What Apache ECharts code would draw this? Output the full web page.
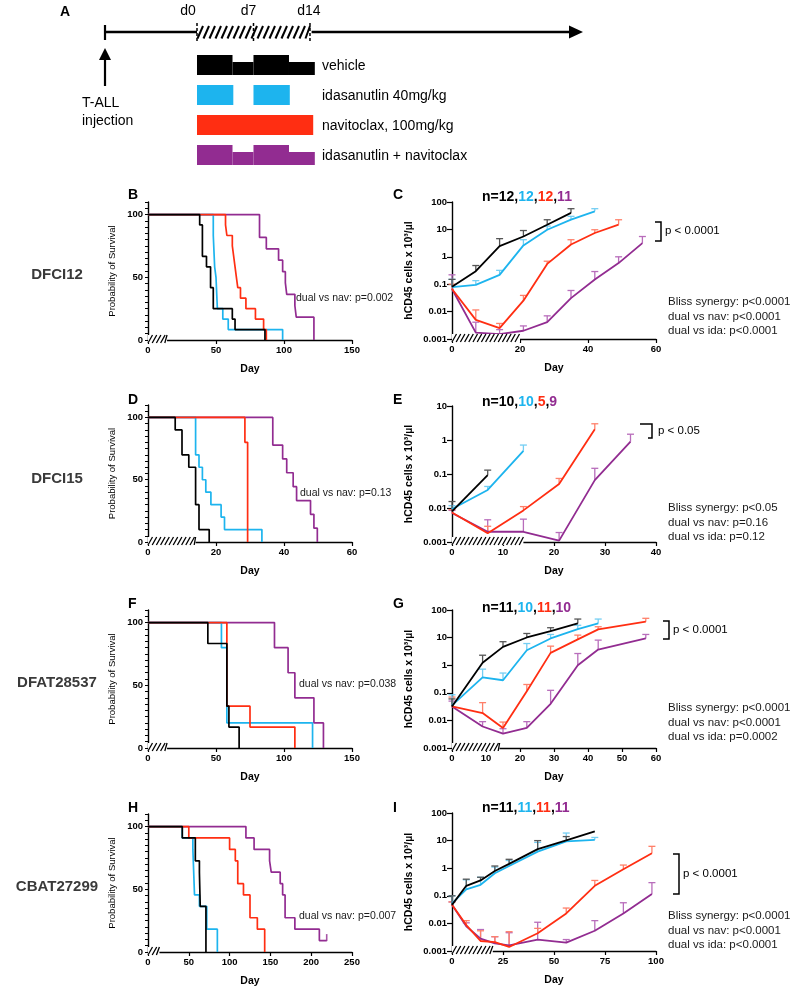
<!DOCTYPE html>
<html><head><meta charset="utf-8">
<script src="https://cdn.jsdelivr.net/npm/echarts@6/dist/echarts.min.js"></script>
<style>html,body{margin:0;padding:0;background:#fff}#c{width:793px;height:999px}</style>
</head><body><div id="c"></div>
<script>
// ---------------- Panel A schedule ----------------
const scheduleRows = ['vehicle', 'idasanutlin 40mg/kg', 'navitoclax, 100mg/kg', 'idasanutlin + navitoclax'];
const scheduleDayLabels = ['d0', 'd7', 'd14'];
const scheduleDayValues = [0, 7, 14];
// [startDay, endDay, fullHeight(1)/reduced(0)]
const blocksVehicle = [[0, 4.4, 1], [4.4, 7, 0], [7, 11.4, 1], [11.4, 14.6, 0]];
const blocksIda = [[0, 4.5, 1], [7, 11.5, 1]];
const blocksNav = [[0, 14.4, 1]];
const blocksDual = [[0, 4.4, 1], [4.4, 7, 0], [7, 11.4, 1], [11.4, 14.6, 0]];

// ---------------- Survival (Kaplan-Meier) ----------------
const survB_veh = [[0,100],[38,91.7],[40,66.7],[43,58.3],[46,41.7],[48,25],[62,16.7],[64,8.3],[86,0]];
const survB_ida = [[0,100],[48,83.3],[49,58.3],[50,50],[51,25],[55,16.7],[59,8.3],[99,0]];
const survB_nav = [[0,100],[57,91.7],[58,83.3],[62,75],[63,66.7],[64,58.3],[65,50],[66,41.7],[68,33.3],[72,25],[79,16.7],[85,8.3],[87,0]];
const survB_dual = [[0,100],[82,81.8],[87,72.7],[96,63.6],[99,54.5],[101,45.5],[102,36.4],[108,27.3],[109,18.2],[122,0]];

const survD_veh = [[0,100],[8,90],[10,70],[12,60],[14,30],[15,10],[18,0]];
const survD_ida = [[0,100],[14,70],[15,60],[16,50],[17,40],[18.5,30],[21.5,20],[22.5,10],[33.5,0]];
const survD_nav = [[0,100],[28.5,80],[29.3,0]];
const survD_dual = [[0,100],[36.7,77.8],[39.6,66.7],[40.8,55.6],[42.7,44.4],[43.7,33.3],[47.8,22.2],[48.8,11.1],[49.8,0]];

const survF_veh = [[0,100],[44,83.3],[58,33.3],[59.5,16.7],[67,0]];
const survF_ida = [[0,100],[54,80],[58,20],[121,0]];
const survF_nav = [[0,100],[58,33.3],[75,16.7],[108,0]];
const survF_dual = [[0,100],[93,80],[103,60],[108,40],[122,20],[129,0]];

const survH_veh = [[0,100],[42,90.9],[58,72.7],[63,63.6],[64,36.4],[71,0]];
const survH_ida = [[0,100],[42,90.9],[55,81.8],[57,45.5],[63,36.4],[72,18.2],[85,0]];
const survH_nav = [[0,100],[50,90.9],[100,81.8],[107,72.7],[110,54.5],[117,45.5],[125,27.3],[134,18.2],[143,0]];
const survH_dual = [[0,100],[120,90.9],[130,81.8],[149,72.7],[151,63.6],[162,54.5],[165,45.5],[168,27.3],[180,18.2],[210,9.1],[219,9.1]];
const censorH_dual = [[219, 9.1]];

// ---------------- Leukemia burden (hCD45 x10^3/ul) ----------------
const daysC = [0, 7, 14, 21, 28, 35, 42, 49, 56];
const C_veh = [0.08, 0.30, 2.45, 5.5, 14.8, 40];
const C_vehErr = [0.15, 0.48, 4.6, 9.1, 22.5, 57];
const C_ida = [0.078, 0.095, 0.22, 2.6, 9.7, 22.6, 45.5];
const C_idaErr = [0.15, 0.135, 0.32, 4.2, 13.2, 30, 57];
const C_nav = [0.067, 0.005, 0.0025, 0.025, 0.55, 2.8, 7.4, 15];
const C_navErr = [0.1, 0.0115, 0.0037, 0.039, 0.69, 4.2, 9.7, 22.5];
const C_dual = [0.067, 0.0017, 0.0015, 0.002, 0.0041, 0.031, 0.148, 0.59, 3.16];
const C_dualErr = [0.22, 0.0041, 0.0022, 0.003, 0.007, 0.059, 0.29, 1.0, 5.5];

const daysE = [0, 7, 14, 21, 28, 35];
const E_veh = [0.0079, 0.093];
const E_vehErr = [0.0155, 0.13];
const E_ida = [0.0093, 0.034, 0.48];
const E_idaErr = [0.0117, 0.043, 0.71];
const E_nav = [0.0074, 0.0018, 0.0085, 0.051, 2.08];
const E_navErr = [0.009, 0.0029, 0.011, 0.074, 3.0];
const E_dual = [0.0071, 0.002, 0.002, 0.0011, 0.066, 0.89];
const E_dualErr = [0.0085, 0.0045, 0.0047, 0.0019, 0.147, 1.48];

const daysG = [0, 9, 15, 22, 29, 37, 43, 57];
const G_veh = [0.032, 1.22, 4.6, 10.1, 17.2, 32.7];
const G_vehErr = [0.06, 2.3, 7.1, 14.1, 22.8, 47];
const G_ida = [0.035, 0.36, 0.285, 3.5, 9.3, 20.4, 32.7];
const G_idaErr = [0.085, 0.72, 0.52, 6.1, 13, 28, 47];
const G_nav = [0.032, 0.0185, 0.0053, 0.114, 2.8, 8.6, 19.8, 37.7];
const G_navErr = [0.07, 0.044, 0.0087, 0.2, 4.9, 12.3, 24.7, 50];
const G_dual = [0.032, 0.006, 0.0033, 0.0054, 0.04, 1.0, 3.7, 9.3];
const G_dualErr = [0.05, 0.009, 0.005, 0.009, 0.123, 2.65, 8.1, 13];

const daysI = [0, 7, 14, 21, 28, 42, 56, 70, 84, 98];
const I_veh = [0.047, 0.23, 0.36, 0.79, 1.44, 4.9, 10.1, 21.5];
const I_vehErr = [0.1, 0.4, 0.47, 1.2, 2.1, 10, 14, null];
const I_ida = [0.053, 0.17, 0.25, 0.66, 1.2, 4.0, 9.3, 10.7];
const I_idaErr = [0.1, 0.38, 0.47, 1.1, 1.9, 8.6, 18.8, 13];
const I_nav = [0.047, 0.0087, 0.0023, 0.0021, 0.0014, 0.0044, 0.023, 0.23, 0.91, 3.5];
const I_navErr = [0.06, 0.0126, 0.0054, 0.0033, 0.005, 0.0066, 0.036, 0.36, 1.3, 6.2];
const I_dual = [0.047, 0.0079, 0.0028, 0.0019, 0.0016, 0.0026, 0.002, 0.0054, 0.023, 0.117];
const I_dualErr = [0.06, 0.0105, 0.006, 0.0033, 0.0046, 0.011, 0.0026, 0.0126, 0.056, 0.3];

// treatment hatch (days)
const hatchB = [0, 14], hatchC = [0, 20], hatchD = [0, 14], hatchE = [0, 14];
const hatchF = [0, 14], hatchG = [0, 14], hatchH = [0, 14], hatchI = [0, 20];

// ---------------- styling ----------------
const FONT = "'Liberation Sans', Arial, Helvetica, sans-serif";
const COL = {veh: '#000000', ida: '#1DB4EE', nav: '#FF2E12', dual: '#922C91'};
const ECOL = {veh: '#555555', ida: '#74CEF3', nav: '#FF806A', dual: '#B86DBB'};

const grids = [], xAxes = [], yAxes = [], series = [];

function hatchSeries(idx, range, yBase) {
  return {
    type: 'custom', xAxisIndex: idx, yAxisIndex: idx, z: 5, silent: true, clip: false,
    encode: {x: [0, 1]},
    data: [range],
    renderItem: function (params, api) {
      const p0 = api.coord([api.value(0), yBase]);
      const p1 = api.coord([api.value(1), yBase]);
      const top = p0[1] - 5, bot = p0[1] + 3;
      const ch = [{type: 'rect', shape: {x: p0[0], y: top, width: p1[0] - p0[0], height: bot - top}, style: {fill: '#fff'}}];
      for (let x = p0[0]; x < p1[0] - 1; x += 4.2) {
        ch.push({type: 'line', shape: {x1: x, y1: bot, x2: Math.min(x + 4.5, p1[0]), y2: top}, style: {stroke: '#000', lineWidth: 1.3}});
      }
      return {type: 'group', children: ch};
    }
  };
}

function axisCommonX(idx, max, interval) {
  return {
    gridIndex: idx, type: 'value', min: 0, max: max, interval: interval,
    name: 'Day', nameLocation: 'middle', nameGap: 24,
    nameTextStyle: {fontWeight: 'bold', fontSize: 10.5, color: '#000', fontFamily: FONT},
    axisLine: {lineStyle: {color: '#000', width: 1.4}},
    axisTick: {length: 4, lineStyle: {color: '#000', width: 1.2}},
    axisLabel: {fontWeight: 'bold', fontSize: 9.5, color: '#000', fontFamily: FONT, margin: 5},
    splitLine: {show: false}
  };
}

function addKM(pos, xmax, xint, curves, hatch, censor) {
  const idx = grids.length;
  grids.push({left: pos[0], top: pos[1], width: 204, height: pos[2]});
  xAxes.push(axisCommonX(idx, xmax, xint));
  yAxes.push({
    gridIndex: idx, type: 'value', min: 0, max: 110, interval: 5,
    name: 'Probability of Survival', nameLocation: 'middle', nameGap: 31,
    nameTextStyle: {fontSize: 9.5, color: '#000', fontFamily: FONT},
    axisLine: {show: true, lineStyle: {color: '#000', width: 1.4}},
    axisTick: {show: true, length: 3, lineStyle: {color: '#000', width: 1}},
    axisLabel: {formatter: v => (v === 0 || v === 50 || v === 100) ? String(v) : '', fontWeight: 'bold', fontSize: 9.5, color: '#000', fontFamily: FONT, margin: 5},
    splitLine: {show: false}
  });
  curves.forEach(([data, key], k) => {
    series.push({type: 'line', xAxisIndex: idx, yAxisIndex: idx, data: data, step: 'end', symbol: 'none',
      lineStyle: {color: COL[key], width: 1.7}, itemStyle: {color: COL[key]}, z: 2 + k * 0.1, silent: true});
  });
  if (censor) {
    series.push({type: 'scatter', xAxisIndex: idx, yAxisIndex: idx, data: censor[0], symbol: 'rect', symbolSize: [1.6, 7], symbolOffset: [0, -3],
      itemStyle: {color: COL[censor[1]]}, z: 3, silent: true});
  }
  series.push(hatchSeries(idx, hatch, 0));
}

const logFmt = v => { const e = Math.round(Math.log10(v)); return e >= 0 ? String(Math.pow(10, e)) : '0.' + '0'.repeat(-e - 1) + '1'; };

function addTumor(pos, xmax, xint, ymax, sets, days, hatch) {
  const idx = grids.length;
  grids.push({left: pos[0], top: pos[1], width: 204, height: pos[2]});
  xAxes.push(axisCommonX(idx, xmax, xint));
  yAxes.push({
    gridIndex: idx, type: 'log', logBase: 10, min: 0.001, max: ymax,
    name: 'hCD45 cells x 10\u00B3/\u00B5l', nameLocation: 'middle', nameGap: 37,
    nameTextStyle: {fontWeight: 'bold', fontSize: 10.5, color: '#000', fontFamily: FONT},
    axisLine: {show: true, lineStyle: {color: '#000', width: 1.4}},
    axisTick: {show: true, length: 5, lineStyle: {color: '#000', width: 1.2}},
    minorTick: {show: false},
    axisLabel: {formatter: logFmt, fontWeight: 'bold', fontSize: 9.5, color: '#000', fontFamily: FONT, margin: 5},
    splitLine: {show: false}
  });
  // error bars
  sets.forEach(([mean, err, key]) => {
    const data = [];
    mean.forEach((m, i) => { if (err[i] != null) data.push([days[i], m, err[i]]); });
    series.push({
      type: 'custom', xAxisIndex: idx, yAxisIndex: idx, z: 2, silent: true, clip: false,
      encode: {x: 0, y: [1, 2]}, data: data,
      renderItem: function (params, api) {
        const a = api.coord([api.value(0), api.value(1)]);
        const b = api.coord([api.value(0), api.value(2)]);
        const st = {stroke: ECOL[key], lineWidth: 1.3};
        return {type: 'group', children: [
          {type: 'line', shape: {x1: a[0], y1: a[1], x2: b[0], y2: b[1]}, style: st},
          {type: 'line', shape: {x1: b[0] - 3.5, y1: b[1], x2: b[0] + 3.5, y2: b[1]}, style: st}
        ]};
      }
    });
  });
  sets.forEach(([mean, err, key], k) => {
    series.push({type: 'line', xAxisIndex: idx, yAxisIndex: idx, data: mean.map((m, i) => [days[i], m]), symbol: 'none',
      lineStyle: {color: COL[key], width: 1.8}, itemStyle: {color: COL[key]}, z: 3 + k * 0.1, silent: true});
  });
  series.push(hatchSeries(idx, hatch, 0.001));
}

// ---- panels ----
const L = 148, R = 452;
addKM([L, 202, 138], 150, 50, [[survB_dual, 'dual'], [survB_ida, 'ida'], [survB_nav, 'nav'], [survB_veh, 'veh']], hatchB);
addTumor([R, 202, 137], 60, 20, 100, [[C_dual, C_dualErr, 'dual'], [C_nav, C_navErr, 'nav'], [C_ida, C_idaErr, 'ida'], [C_veh, C_vehErr, 'veh']], daysC, hatchC);
addKM([L, 405, 137], 60, 20, [[survD_dual, 'dual'], [survD_ida, 'ida'], [survD_nav, 'nav'], [survD_veh, 'veh']], hatchD);
addTumor([R, 406, 136], 40, 10, 10, [[E_dual, E_dualErr, 'dual'], [E_nav, E_navErr, 'nav'], [E_ida, E_idaErr, 'ida'], [E_veh, E_vehErr, 'veh']], daysE, hatchE);
addKM([L, 610, 138], 150, 50, [[survF_dual, 'dual'], [survF_ida, 'ida'], [survF_nav, 'nav'], [survF_veh, 'veh']], hatchF);
addTumor([R, 610, 138], 60, 10, 100, [[G_dual, G_dualErr, 'dual'], [G_nav, G_navErr, 'nav'], [G_ida, G_idaErr, 'ida'], [G_veh, G_vehErr, 'veh']], daysG, hatchG);
addKM([L, 814, 138], 250, 50, [[survH_dual, 'dual'], [survH_ida, 'ida'], [survH_nav, 'nav'], [survH_veh, 'veh']], hatchH, [censorH_dual, 'dual']);
addTumor([R, 813, 138], 100, 25, 100, [[I_dual, I_dualErr, 'dual'], [I_nav, I_navErr, 'nav'], [I_ida, I_idaErr, 'ida'], [I_veh, I_vehErr, 'veh']], daysI, hatchI);

// ---- panel A schedule grid (hidden axes) ----
const aIdx = grids.length;
grids.push({left: 105, top: 50, width: 475, height: 120});
xAxes.push({gridIndex: aIdx, type: 'value', min: -11.4, max: 47.46, show: false});
yAxes.push({gridIndex: aIdx, type: 'category', data: scheduleRows, inverse: true, show: false});
const blockSets = [[blocksVehicle, 'veh'], [blocksIda, 'ida'], [blocksNav, 'nav'], [blocksDual, 'dual']];
blockSets.forEach(([blocks, key], row) => {
  series.push({
    type: 'custom', xAxisIndex: aIdx, yAxisIndex: aIdx, silent: true, clip: false,
    encode: {x: [0, 1], y: 3},
    data: blocks.map(b => [b[0], b[1], b[2], row]),
    renderItem: function (params, api) {
      const p0 = api.coord([api.value(0), api.value(3)]);
      const p1 = api.coord([api.value(1), api.value(3)]);
      const bot = p0[1] + 10, top = api.value(2) ? p0[1] - 10 : p0[1] - 3;
      return {type: 'rect', shape: {x: p0[0], y: top, width: p1[0] - p0[0], height: bot - top}, style: {fill: COL[key]}};
    }
  });
});

// ---------------- annotations ----------------
const G = [];
function txt(x, y, text, size, weight, align, fill) {
  G.push({type: 'text', x: x, y: y, silent: true, style: {text: text, fill: fill || '#000', font: (weight || 'normal') + ' ' + size + 'px ' + FONT, align: align || 'left', verticalAlign: 'middle'}});
}
function line(x1, y1, x2, y2, w, dash) {
  G.push({type: 'line', silent: true, shape: {x1, y1, x2, y2}, style: {stroke: '#000', lineWidth: w || 1.5, lineDash: dash || null}});
}
// Panel A
txt(60, 12, 'A', 14, 'bold');
const dayX = d => 197 + d * 8.07;
line(105, 32, dayX(0), 32, 2.5);
line(dayX(14.2), 32, 572, 32, 2.5);
G.push({type: 'polygon', silent: true, shape: {points: [[569, 25.5], [583, 32], [569, 38.5]]}, style: {fill: '#000'}});
line(105, 25, 105, 40, 2.2);
for (let x = dayX(0); x < dayX(14); x += 6) line(x + 0.5, 38.5, Math.min(x + 6, dayX(14)), 26, 2);
[0, 7, 14].forEach(d => line(dayX(d), 23, dayX(d), 42, 1.5, [3, 2]));
const dLabelShift = [-9, -5, -1];
scheduleDayLabels.forEach((s, i) => txt(dayX(scheduleDayValues[i]) + dLabelShift[i], 11, s, 14, 'normal', 'center'));
line(105, 86, 105, 58, 2.2);
G.push({type: 'polygon', silent: true, shape: {points: [[99, 60], [105, 48], [111, 60]]}, style: {fill: '#000'}});
txt(82, 103, 'T-ALL', 14);
txt(82, 121, 'injection', 14);
[65, 95, 125, 155].forEach((y, i) => txt(322, y + 1, scheduleRows[i], 14));

// Panel letters
[['B', 128, 195], ['C', 393, 195], ['D', 128, 400], ['E', 393, 400], ['F', 128, 604], ['G', 393, 604], ['H', 128, 808], ['I', 393, 808]]
  .forEach(([t, x, y]) => txt(x, y, t, 14, 'bold'));
// Patient-derived xenograft labels
[['DFCI12', 275], ['DFCI15', 479], ['DFAT28537', 683], ['CBAT27299', 887]].forEach(([t, y]) => txt(57, y, t, 15, 'bold', 'center', '#3a3a3a'));

// n labels
function nLabel(x, y, ns) {
  G.push({type: 'text', x: x, y: y, silent: true, style: {
    text: '{k|n=' + ns[0] + ',}{b|' + ns[1] + '}{k|,}{r|' + ns[2] + '}{k|,}{p|' + ns[3] + '}',
    verticalAlign: 'middle', align: 'left',
    rich: {
      k: {fill: COL.veh, fontSize: 14, fontWeight: 'bold', fontFamily: FONT},
      b: {fill: COL.ida, fontSize: 14, fontWeight: 'bold', fontFamily: FONT},
      r: {fill: COL.nav, fontSize: 14, fontWeight: 'bold', fontFamily: FONT},
      p: {fill: COL.dual, fontSize: 14, fontWeight: 'bold', fontFamily: FONT}
    }}});
}
nLabel(482, 197, [12, 12, 12, 11]);
nLabel(482, 402, [10, 10, 5, 9]);
nLabel(482, 608, [11, 10, 11, 10]);
nLabel(482, 808, [11, 11, 11, 11]);

// brackets
function bracket(pts) { G.push({type: 'polyline', silent: true, shape: {points: pts}, style: {stroke: '#000', lineWidth: 1.5, fill: null}}); }
bracket([[655, 222], [661, 222], [661, 241], [655, 241]]); txt(665, 231, 'p < 0.0001', 11.5);
bracket([[640, 424], [652, 424], [652, 438], [648, 438]]); txt(658, 431, 'p < 0.05', 11.5);
bracket([[663, 621], [669, 621], [669, 639], [663, 639]]); txt(673, 630, 'p < 0.0001', 11.5);
bracket([[673, 854], [679, 854], [679, 894], [673, 894]]); txt(683, 874, 'p < 0.0001', 11.5);

// Bliss / comparison texts
function stats(y, lines) { lines.forEach((t, i) => txt(668, y + i * 14.5, t, 11.5, 'normal', 'left', '#1a1a1a')); }
stats(302, ['Bliss synergy: p<0.0001', 'dual vs nav: p<0.0001', 'dual vs ida: p<0.0001']);
stats(508, ['Bliss synergy: p<0.05', 'dual vs nav: p=0.16', 'dual vs ida: p=0.12']);
stats(708, ['Bliss synergy: p<0.0001', 'dual vs nav: p<0.0001', 'dual vs ida: p=0.0002']);
stats(916, ['Bliss synergy: p<0.0001', 'dual vs nav: p<0.0001', 'dual vs ida: p<0.0001']);

txt(296, 298, 'dual vs nav: p=0.002', 10.5, 'normal', 'left', '#1a1a1a');
txt(300, 493, 'dual vs nav: p=0.13', 10.5, 'normal', 'left', '#1a1a1a');
txt(299, 684, 'dual vs nav: p=0.038', 10.5, 'normal', 'left', '#1a1a1a');
txt(299, 916, 'dual vs nav: p=0.007', 10.5, 'normal', 'left', '#1a1a1a');

const chart = echarts.init(document.getElementById('c'), null, {renderer: 'canvas', width: 793, height: 999});
chart.setOption({
  animation: false,
  backgroundColor: '#fff',
  textStyle: {fontFamily: FONT},
  grid: grids, xAxis: xAxes, yAxis: yAxes, series: series, graphic: G
});
</script></body></html>
